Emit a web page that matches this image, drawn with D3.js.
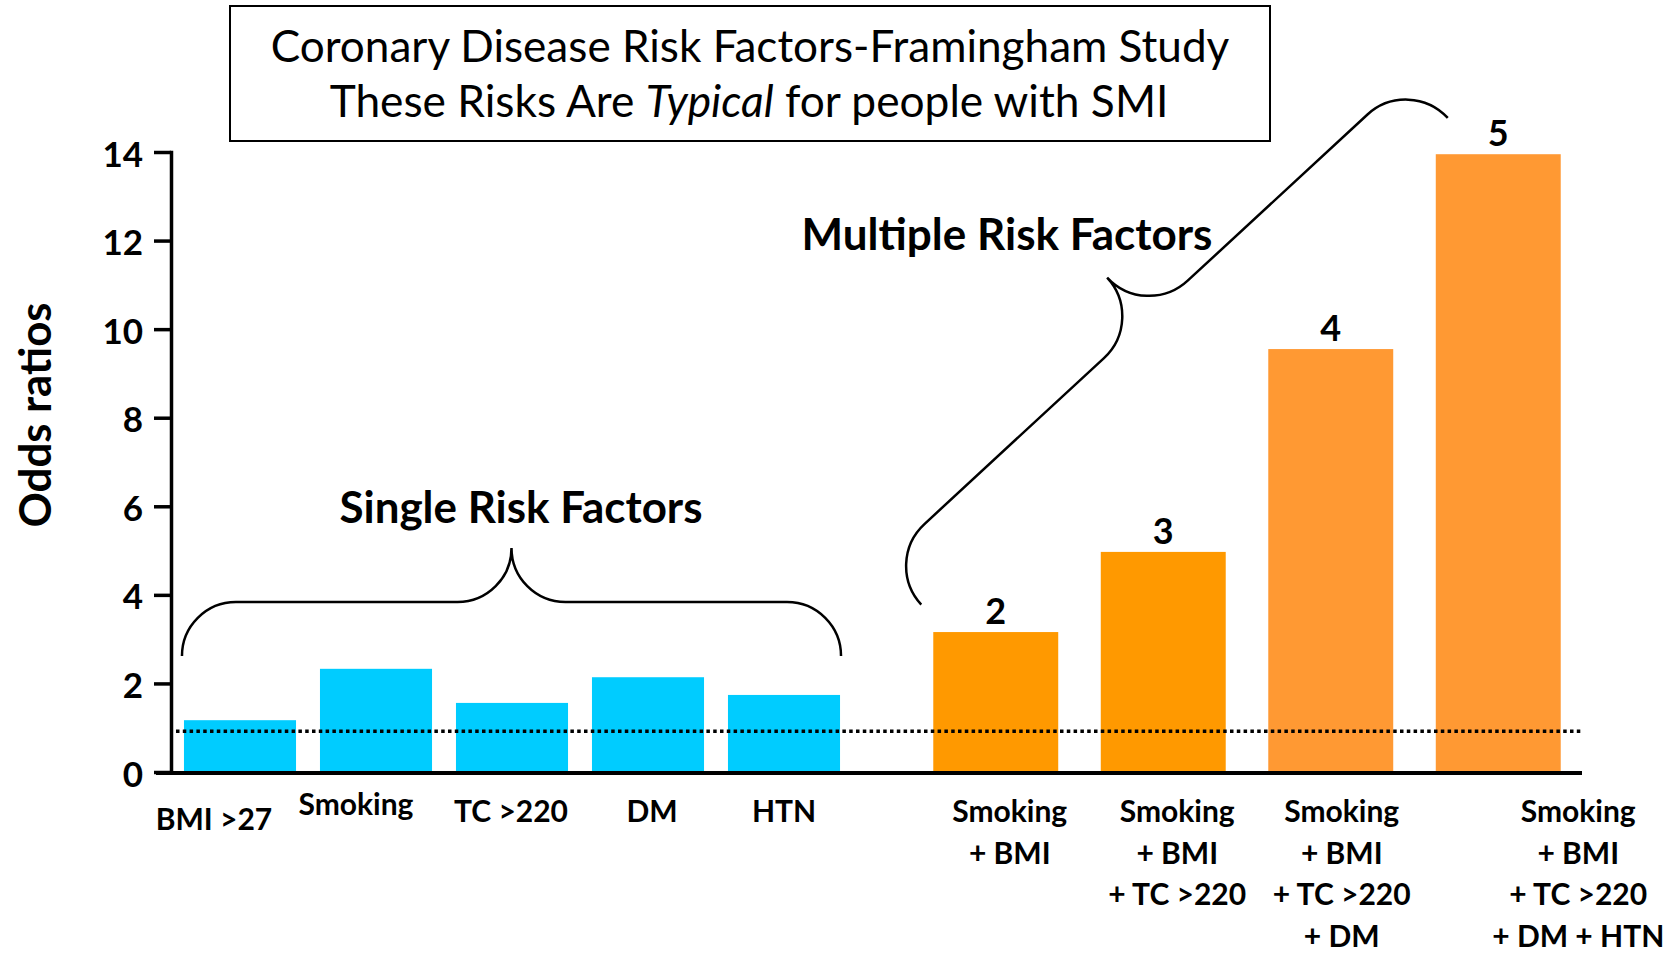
<!DOCTYPE html>
<html>
<head>
<meta charset="utf-8">
<script src="https://cdn.jsdelivr.net/npm/d3@7"></script>
<style>
  body { margin: 0; background: #fff; }
  svg { display: block; font-family: Lato, "Open Sans", sans-serif; }
</style>
</head>
<body>
<script>
/* DATA */
var singleFactors = ["BMI >27", "Smoking", "TC >220", "DM", "HTN"];
var singleOdds = [1.17, 2.33, 1.56, 2.14, 1.74];

var multiCounts = ["2", "3", "4", "5"];
var multiFactors = [
  ["Smoking", "+ BMI"],
  ["Smoking", "+ BMI", "+ TC >220"],
  ["Smoking", "+ BMI", "+ TC >220", "+ DM"],
  ["Smoking", "+ BMI", "+ TC >220", "+ DM + HTN"]
];
var multiOdds = [3.16, 4.97, 9.55, 13.95];

var yTicks = [0, 2, 4, 6, 8, 10, 12, 14];
var referenceOdds = 0.92;

var titleLine1 = "Coronary Disease Risk Factors-Framingham Study";
var titleLine2 = ["These Risks Are ", "Typical", " for people with SMI"];
var yLabel = "Odds ratios";
var singleGroupLabel = "Single Risk Factors";
var multiGroupLabel = "Multiple Risk Factors";

/* LAYOUT */
var width = 1676, height = 953;
var multiColors = ["#FF9900", "#FF9900", "#FF9933", "#FF9933"];
var singleColor = "#00CCFF";
// small label nudges to follow the original slide
var singleNudge = [[-26, 8], [-20, -7], [-1, 0], [4, 0], [0, 0]];
var multiNudge = [14, 14, 11, 80];

var svg = d3.select("body").append("svg")
  .attr("width", width)
  .attr("height", height);

// scales
var y = d3.scaleLinear().domain([0, 14]).range([772, 152]);
var xSingle = d3.scaleBand().domain(singleFactors)
  .range([172, 852]).paddingInner(0.176).paddingOuter(0.088);
var xMulti = d3.scaleBand().domain(multiCounts)
  .range([912, 1582]).paddingInner(0.254).paddingOuter(0.127);

function fit(sel, w) {
  var cur = parseFloat(sel.attr("font-size"));
  var len = sel.node().getComputedTextLength();
  sel.attr("font-size", cur * w / len);
}

// title box
svg.append("rect")
  .attr("x", 230).attr("y", 6)
  .attr("width", 1040).attr("height", 135)
  .attr("fill", "#fff")
  .attr("stroke", "#000")
  .attr("stroke-width", 2);

var t1 = svg.append("text")
  .attr("x", 750).attr("y", 62)
  .attr("text-anchor", "middle")
  .attr("font-size", 40)
  .text(titleLine1);
fit(t1, 959);

var t2 = svg.append("text")
  .attr("x", 749).attr("y", 117)
  .attr("text-anchor", "middle")
  .attr("font-size", 40);
t2.selectAll("tspan")
  .data(titleLine2)
  .enter().append("tspan")
  .attr("font-style", function(d, i) { return i == 1 ? "italic" : null; })
  .text(function(d) { return d; });
fit(t2, 839);

// bars
svg.selectAll(".single")
  .data(singleOdds)
  .enter().append("rect")
  .attr("class", "single")
  .attr("x", function(d, i) { return xSingle(singleFactors[i]); })
  .attr("width", xSingle.bandwidth())
  .attr("y", function(d) { return y(d); })
  .attr("height", function(d) { return y(0) - y(d); })
  .attr("fill", singleColor);

svg.selectAll(".multi")
  .data(multiOdds)
  .enter().append("rect")
  .attr("class", "multi")
  .attr("x", function(d, i) { return xMulti(multiCounts[i]); })
  .attr("width", xMulti.bandwidth())
  .attr("y", function(d) { return y(d); })
  .attr("height", function(d) { return y(0) - y(d); })
  .attr("fill", function(d, i) { return multiColors[i]; });

// count labels above orange bars
svg.selectAll(".count")
  .data(multiOdds)
  .enter().append("text")
  .attr("class", "count")
  .attr("x", function(d, i) { return xMulti(multiCounts[i]) + xMulti.bandwidth() / 2; })
  .attr("y", function(d) { return y(d) - 8; })
  .attr("text-anchor", "middle")
  .attr("font-size", 36)
  .attr("font-weight", "bold")
  .text(function(d, i) { return multiCounts[i]; });

// dotted reference line
svg.append("line")
  .attr("x1", 176).attr("x2", xMulti.range()[1])
  .attr("y1", y(referenceOdds)).attr("y2", y(referenceOdds))
  .attr("stroke", "#000")
  .attr("stroke-width", 3.5)
  .attr("stroke-dasharray", "3.5 3.3");

// y axis
var yAxis = svg.append("g")
  .attr("transform", "translate(171,0)")
  .call(d3.axisLeft(y).tickValues(yTicks).tickSize(17).tickSizeOuter(0).tickPadding(11));
yAxis.select(".domain").attr("stroke-width", 3.5).attr("stroke-linecap", "square");
yAxis.selectAll(".tick line").attr("stroke-width", 3.5);
yAxis.selectAll(".tick text")
  .attr("font-family", "Lato, 'Open Sans', sans-serif")
  .attr("font-size", 35)
  .attr("font-weight", "bold")
  .attr("fill", "#000")
  .attr("dy", 14);

// x axis baseline
svg.append("line")
  .attr("x1", 156).attr("x2", xMulti.range()[1])
  .attr("y1", y(0) + 1).attr("y2", y(0) + 1)
  .attr("stroke", "#000")
  .attr("stroke-width", 4);

// y label
var yl = svg.append("text")
  .attr("transform", "translate(51,415) rotate(-90)")
  .attr("text-anchor", "middle")
  .attr("font-size", 36)
  .attr("font-weight", "bold")
  .text(yLabel);
fit(yl, 225);

// category labels
svg.selectAll(".slabel")
  .data(singleFactors)
  .enter().append("text")
  .attr("class", "slabel")
  .attr("x", function(d, i) { return xSingle(d) + xSingle.bandwidth() / 2 + singleNudge[i][0]; })
  .attr("y", function(d, i) { return 822 + singleNudge[i][1]; })
  .attr("text-anchor", "middle")
  .attr("font-size", 30)
  .attr("font-weight", "bold")
  .text(function(d) { return d; });

svg.selectAll(".mlabel")
  .data(multiFactors)
  .enter().append("text")
  .attr("class", "mlabel")
  .attr("text-anchor", "middle")
  .attr("font-size", 30)
  .attr("font-weight", "bold")
  .each(function(lines, i) {
    var cx = xMulti(multiCounts[i]) + xMulti.bandwidth() / 2 + multiNudge[i];
    d3.select(this).selectAll("tspan")
      .data(lines)
      .enter().append("tspan")
      .attr("x", cx)
      .attr("y", function(d, j) { return 822 + j * 41.5; })
      .text(function(d) { return d; });
  });

// braces
function bracePath(L, r) {
  return "M0," + r +
    " A" + r + "," + r + " 0 0 1 " + r + ",0" +
    " L" + (L / 2 - r) + ",0" +
    " A" + r + "," + r + " 0 0 0 " + (L / 2) + "," + (-r) +
    " A" + r + "," + r + " 0 0 0 " + (L / 2 + r) + ",0" +
    " L" + (L - r) + ",0" +
    " A" + r + "," + r + " 0 0 1 " + L + "," + r;
}

function brace(ax, ay, bx, by, r) {
  var dx = bx - ax, dy = by - ay;
  var L = Math.sqrt(dx * dx + dy * dy);
  var th = Math.atan2(dy, dx);
  var px = ax + r * Math.sin(th), py = ay - r * Math.cos(th);
  svg.append("path")
    .attr("d", bracePath(L, r))
    .attr("transform", "translate(" + px + "," + py + ") rotate(" + (th * 180 / Math.PI) + ")")
    .attr("fill", "none")
    .attr("stroke", "#000")
    .attr("stroke-width", 2.5);
}

var lastS = singleFactors[singleFactors.length - 1];
brace(xSingle(singleFactors[0]) - 2, y(2.62), xSingle(lastS) + xSingle.bandwidth() + 1, y(2.62), 54);
brace(xMulti("2") - 12, y(3.78), xMulti("5") + 12, y(14.77), 57);

// group labels
var sg = svg.append("text")
  .attr("x", 521).attr("y", 523)
  .attr("text-anchor", "middle")
  .attr("font-size", 38)
  .attr("font-weight", "bold")
  .text(singleGroupLabel);
fit(sg, 363);

var mg = svg.append("text")
  .attr("x", 1007).attr("y", 250)
  .attr("text-anchor", "middle")
  .attr("font-size", 38)
  .attr("font-weight", "bold")
  .text(multiGroupLabel);
fit(mg, 411);
</script>
</body>
</html>
